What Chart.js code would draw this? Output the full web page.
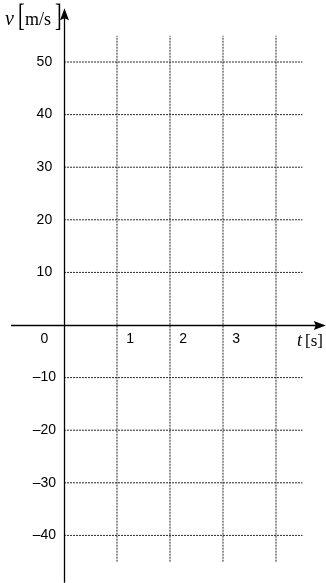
<!DOCTYPE html>
<html>
<head>
<meta charset="utf-8">
<script src="https://cdn.jsdelivr.net/npm/chart.js@4.4.1/dist/chart.umd.min.js"></script>
<style>
    html, body { margin: 0; padding: 0; background: #fff; }
    #chart { display: block; }
</style>
</head>
<body>
<canvas id="chart" width="326" height="583"></canvas>
<script>
(function () {
    "use strict";

    // grid positions (seconds / metres per second)
    var tGrid = [1, 2, 3, 4];
    var vGrid = [50, 40, 30, 20, 10, -10, -20, -30, -40];

    // tick labels
    var tLabels = ["1", "2", "3"];
    var vLabels = ["50", "40", "30", "20", "10", "\u201310", "\u201320", "\u201330", "\u201340"];

    // extent of the dotted grid and of the two axes
    var gridT = [0, 4.5];
    var gridV = [-45, 55];
    var axisT = [-1, 4.94];
    var axisV = [-49, 60.2];

    var xRange = [-1.2075, 4.9434];
    var yRange = [-49.05, 61.79];

    var gridColor = "#262626";
    var sansFont = "14px 'Liberation Sans', Arial, sans-serif";

    function gridDataset(points) {
        return {
            data: points,
            showLine: true,
            borderColor: gridColor,
            borderWidth: 1,
            borderDash: [2, 1],
            pointRadius: 0,
            fill: false
        };
    }

    function buildDatasets() {
        var sets = [];

        vGrid.forEach(function (v) {
            sets.push(gridDataset([{ x: gridT[0], y: v }, { x: gridT[1], y: v }]));
        });

        tGrid.forEach(function (t) {
            sets.push(gridDataset([{ x: t, y: gridV[0] }, { x: t, y: gridV[1] }]));
        });

        return sets;
    }

    // axes with arrowheads, tick labels and the unit captions
    var axesPlugin = {
        id: "axesPlugin",
        afterDatasetsDraw: function (chart) {
            var ctx = chart.ctx;
            var xs = chart.scales.x;
            var ys = chart.scales.y;
            var x0 = Math.round(xs.getPixelForValue(0)) + 0.5;
            var y0 = Math.round(ys.getPixelForValue(0)) + 0.5;
            var xEnd = xs.getPixelForValue(axisT[1]);
            var yEnd = ys.getPixelForValue(axisV[1]);

            ctx.save();
            ctx.strokeStyle = "#000";
            ctx.fillStyle = "#000";
            ctx.lineWidth = 1.3;

            ctx.beginPath();
            ctx.moveTo(xs.getPixelForValue(axisT[0]), y0);
            ctx.lineTo(xEnd - 6, y0);
            ctx.moveTo(x0, ys.getPixelForValue(axisV[0]));
            ctx.lineTo(x0, yEnd + 6);
            ctx.stroke();

            ctx.beginPath();
            ctx.moveTo(xEnd, y0);
            ctx.lineTo(xEnd - 12, y0 - 4.5);
            ctx.lineTo(xEnd - 10, y0);
            ctx.lineTo(xEnd - 12, y0 + 4.5);
            ctx.closePath();
            ctx.fill();

            ctx.beginPath();
            ctx.moveTo(x0, yEnd);
            ctx.lineTo(x0 - 4.5, yEnd + 12);
            ctx.lineTo(x0, yEnd + 10);
            ctx.lineTo(x0 + 4.5, yEnd + 12);
            ctx.closePath();
            ctx.fill();

            ctx.font = sansFont;
            ctx.textAlign = "center";
            ctx.textBaseline = "middle";

            var labelX = xs.getPixelForValue(-0.37);
            vLabels.forEach(function (label, i) {
                ctx.fillText(label, labelX, ys.getPixelForValue(vGrid[i]));
            });

            var labelY = ys.getPixelForValue(-2.65);
            ctx.fillText("0", labelX, labelY);
            tLabels.forEach(function (label, i) {
                ctx.fillText(label, xs.getPixelForValue(tGrid[i] + 0.25), labelY);
            });

            // t [s]
            ctx.textAlign = "left";
            ctx.textBaseline = "alphabetic";
            ctx.font = "italic 18px 'Liberation Serif', serif";
            ctx.fillText("t", 297, 346);
            ctx.font = "17px 'Liberation Serif', serif";
            ctx.fillText("[s]", 305, 346);

            // v [m/s]
            ctx.font = "italic 20px 'Liberation Serif', serif";
            ctx.fillText("v", 5, 25);
            ctx.font = "18px 'Liberation Serif', serif";
            ctx.fillText("m/s", 25, 25);

            ctx.font = "20px 'Liberation Serif', serif";
            ctx.save();
            ctx.translate(0, 26);
            ctx.scale(1, 1.6);
            ctx.fillText("[", 18, 0);
            ctx.fillText("]", 55, 0);
            ctx.restore();

            ctx.restore();
        }
    };

    new Chart(document.getElementById("chart").getContext("2d"), {
        type: "scatter",
        data: { datasets: buildDatasets() },
        options: {
            responsive: false,
            animation: false,
            events: [],
            layout: { padding: 0 },
            plugins: {
                legend: { display: false },
                tooltip: { enabled: false }
            },
            scales: {
                x: { type: "linear", display: false, min: xRange[0], max: xRange[1] },
                y: { type: "linear", display: false, min: yRange[0], max: yRange[1] }
            }
        },
        plugins: [axesPlugin]
    });
})();
</script>
</body>
</html>
